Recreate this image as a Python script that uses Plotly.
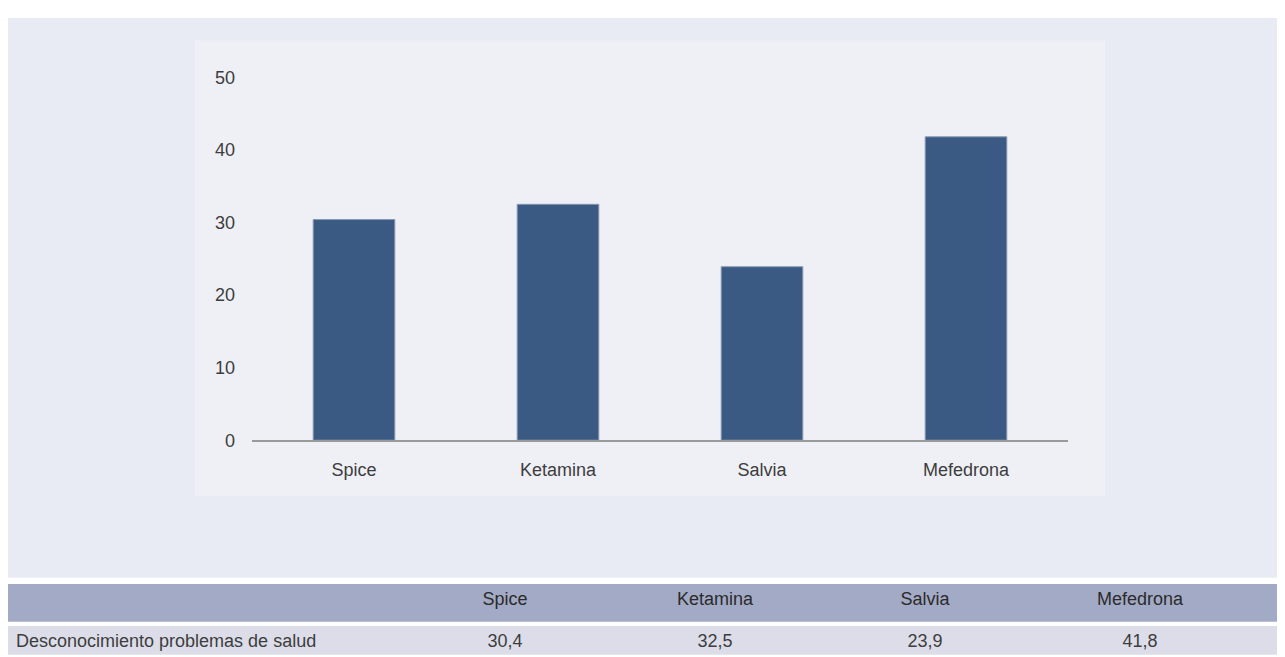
import plotly.graph_objects as go

# datos
sustancias = ['Spice', 'Ketamina', 'Salvia', 'Mefedrona']
valores = [30.4, 32.5, 23.9, 41.8]
etiqueta_fila = 'Desconocimiento problemas de salud'
y_ticks = [0, 10, 20, 30, 40, 50]

# the page puts the figure at (8, 18) and the snapshot is squeezed a bit
# vertically, so positions are given in snapshot pixels and converted here
W, H = 1269, 657
OX, OY, SY = 8, 18, 0.9725
FONT = 'Liberation Sans, Arial, sans-serif'
TXT = '#3d3d3d'


def sx(px):
    return min(1, max(0, (px - OX) / W))


def sy(py):
    return min(1, max(0, 1 - (py / SY - OY) / H))


fig = go.Figure()

fig.add_trace(go.Bar(
    x=sustancias, y=valores, width=0.4,
    marker=dict(color='#3b5a83', line=dict(color='#8797b3', width=1)),
    showlegend=False, hoverinfo='x+y'
))

# tabla: cabecera y fila separadas por un hueco blanco
fmt = [f'{v:.1f}'.replace('.', ',') for v in valores]
anchos = [392, 210, 210, 210, 220, 27]
alin = ['left', 'center', 'center', 'center', 'center', 'center']

fig.add_trace(go.Table(
    domain=dict(x=[0, 1], y=[sy(624), sy(585)]),
    columnwidth=anchos,
    header=dict(values=[''] + sustancias + [''], height=40,
                fill_color='#a3aac6', line=dict(color='#a3aac6', width=0),
                align=alin, font=dict(family=FONT, size=18, color='#2b2b2b')),
    cells=dict(values=[])
))
fig.add_trace(go.Table(
    domain=dict(x=[0, 1], y=[0, sy(627)]),
    columnwidth=anchos,
    header=dict(values=[etiqueta_fila] + fmt + [''], height=33,
                fill_color='#dcdde9', line=dict(color='#dcdde9', width=0),
                align=alin, font=dict(family=FONT, size=18, color=TXT)),
    cells=dict(values=[])
))

fig.update_layout(
    width=W, height=H,
    margin=dict(l=0, r=0, t=0, b=0),
    paper_bgcolor='white',
    plot_bgcolor='rgba(0,0,0,0)',
    font=dict(family=FONT, size=18, color=TXT),
    shapes=[
        dict(type='rect', xref='paper', yref='paper', layer='below',
             x0=0, x1=1, y0=sy(579), y1=sy(10),
             fillcolor='#e9ebf4', line=dict(width=0)),
        dict(type='rect', xref='paper', yref='paper', layer='below',
             x0=sx(195), x1=sx(1105), y0=sy(497), y1=sy(40),
             fillcolor='#eff0f5', line=dict(width=0)),
    ],
    xaxis=dict(domain=[sx(252), sx(1068)], range=[-0.5, 3.5],
               showline=True, linecolor='#9a9a9a', linewidth=2,
               showgrid=False, zeroline=False, ticks='',
               ticklabelstandoff=12),
    yaxis=dict(domain=[sy(441), sy(77)], range=[0, 50], tickvals=y_ticks,
               showgrid=False, zeroline=False, showline=False, ticks='',
               ticklabelstandoff=16),
)

fig.write_html('out.html')
